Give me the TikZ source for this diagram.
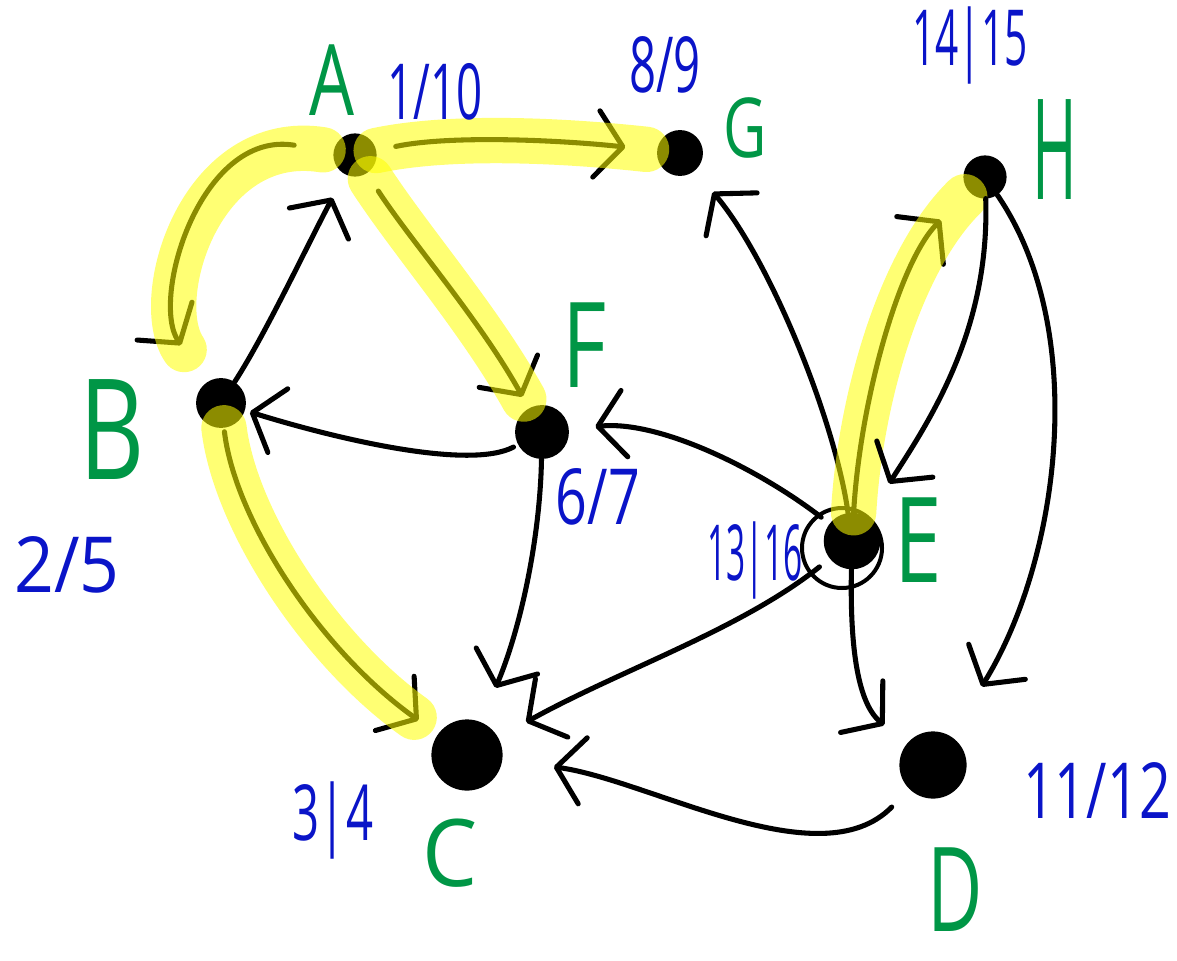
\documentclass[tikz,border=0pt]{standalone}
\usepackage{fontspec}
\usepackage{graphicx}
\newfontfamily\handfont[FakeStretch=0.72]{Open Sans}
\newcommand\hsq[2]{\scalebox{#1}[1]{#2}}
\usetikzlibrary{arrows.meta}
\definecolor{lblgreen}{RGB}{0,150,70}
\definecolor{lblblue}{RGB}{10,20,200}
\definecolor{hlyellow}{RGB}{255,255,0}
\begin{document}
\begin{tikzpicture}[x=0.75pt,y=-0.75pt,
  vtx/.style={circle,fill=black,draw=black,line width=2.4pt,inner sep=0pt,minimum size=#1},
  edge/.style={line width=3.8pt,line cap=round,line join=round,
    -{Straight Barb[length=20pt,width=50pt,round]}},
  hl/.style={draw=hlyellow,draw opacity=0.55,line width=34pt,line cap=round,-},
  glab/.style={text=lblgreen,font=\handfont\fontsize{#1}{#1}\selectfont,inner sep=0pt},
  glab/.default=88,
  nlab/.style={text=lblblue,font=\handfont\fontsize{58}{58}\selectfont,inner sep=0pt}]
\useasboundingbox (0,0) rectangle (1177,960);

% vertices
\node[vtx=30pt] (A) at (355,155) {};
\node[vtx=32pt] (G) at (680,153) {};
\node[vtx=30pt] (H) at (985,177) {};
\node[vtx=35pt] (B) at (221,403) {};
\node[vtx=38pt] (F) at (542,432) {};
\node[vtx=40pt] (E) at (852,541) {};
\node[vtx=51pt] (C) at (467,755) {};
\node[vtx=48pt] (D) at (933,765) {};
\draw[line width=3pt] (E.center) ++(-10,7) circle [radius=40];

% edges
\draw[edge,shorten >=20pt] (B) .. controls (265,335) and (305,250) .. (A);
\draw[edge,shorten <=30pt,shorten >=34pt,
  postaction={hl,shorten <=8pt,shorten >=30pt}]
  (A) .. controls (200,130) and (150,300) .. (B);
\draw[edge,shorten <=15pt,shorten >=24pt,
  postaction={hl,shorten <=0pt,shorten >=8pt}]
  (A) .. controls (450,135) and (560,140) .. (G);
\draw[edge,shorten <=16pt,shorten >=10pt,
  postaction={hl,shorten <=5pt,shorten >=8pt}]
  (A) .. controls (410,240) and (480,320) .. (F);
\draw[edge,shorten <=4pt,shorten >=4pt] (F) .. controls (470,470) and (340,440) .. (B);
\draw[edge,shorten <=3pt,shorten >=18pt,
  postaction={hl,shorten <=0pt,shorten >=22pt}]
  (B) .. controls (235,520) and (320,650) .. (C);
\draw[edge,shorten >=28pt] (F) .. controls (540,540) and (520,630) .. (C);
\draw[edge,shorten <=10pt,shorten >=24pt] (E) .. controls (740,630) and (620,670) .. (C);
\draw[edge,shorten <=19pt,shorten >=39pt] (D) .. controls (820,880) and (650,780) .. (C);
\draw[edge,shorten >=21pt] (E) .. controls (835,420) and (770,260) .. (G);
\draw[edge,shorten <=8pt,shorten >=20pt] (E) .. controls (760,470) and (660,420) .. (F);
\draw[edge,shorten >=30pt,
  postaction={hl,shorten <=0pt,shorten >=5pt}]
  (E) .. controls (860,400) and (900,260) .. (H);
\draw[edge,shorten >=30pt] (H) .. controls (990,330) and (930,420) .. (E);
\draw[edge,shorten >=44pt] (H) .. controls (1090,330) and (1060,560) .. (D);
\draw[edge,shorten >=22pt] (E) .. controls (850,640) and (856,702) .. (D);

% vertex names
\node[glab=74] (tA) at (332,80) {A};
\node[glab=62] (tG) at (745,128) {G};
\node[glab=105] (tH) at (1055,150) {\hsq{0.6}{H}};
\node[glab=105] (tB) at (112,430) {B};
\node[glab=89] (tF) at (585,345) {F};
\node[glab=89] (tE) at (918,540) {E};
\node[glab=70] (tC) at (450,853) {\hsq{1.3}{C}};
\node[glab=88] (tD) at (955,890) {\hsq{0.9}{D}};

% times
\node[nlab] (nA) at (435,92) {\hsq{0.82}{1/10}};
\node[nlab] (nG) at (665,65) {\hsq{0.85}{8/9}};
\node[nlab] (nH) at (970,45) {\hsq{0.73}{14|15}};
\node[nlab] (nB) at (67,565) {\hsq{1.25}{2/5}};
\node[nlab] (nF) at (598,497) {6/7};
\node[nlab] (nE) at (755,560) {\hsq{0.6}{13|16}};
\node[nlab] (nC) at (333,820) {\hsq{0.85}{3|4}};
\node[nlab] (nD) at (1097,790) {11/12};
\end{tikzpicture}
\end{document}
